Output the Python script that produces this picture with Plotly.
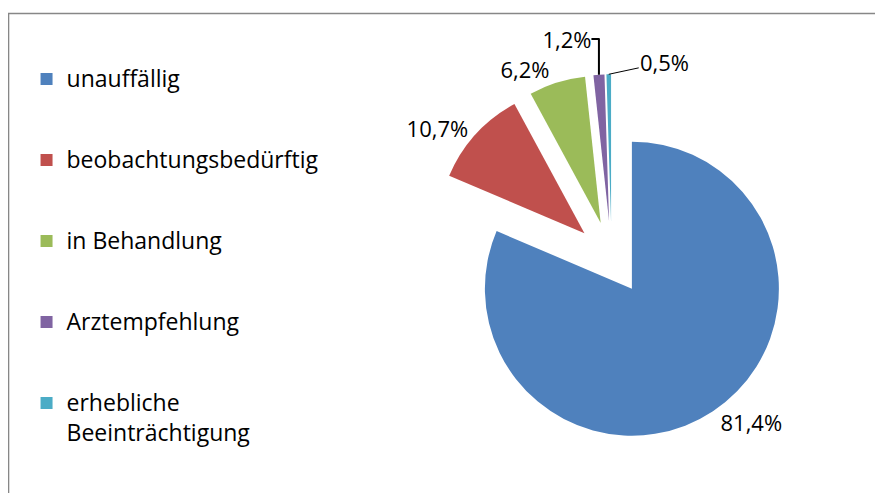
import math
import plotly.graph_objects as go

categories = ["unauffällig", "beobachtungsbedürftig", "in Behandlung", "Arztempfehlung", "erhebliche<br>Beeinträchtigung"]
shares = [81.4, 10.7, 6.2, 1.2, 0.5]
colors = ["#4F81BD", "#C0504D", "#9BBB59", "#8064A2", "#4BACC6"]
pulls = [0.25, 0.25, 0.25, 0.25, 0.25]

FONT = "Open Sans"
W, H = 883, 493
DOM_X = [0.4755, 0.8917]
DOM_Y = [0.1202, 0.8656]


def big(s):
    return "<span style='font-size:23px'>%s</span>" % s


# legend labels: larger text, padded with blank lines so the legend rows are spread like the original;
# continuation lines are nudged down a little for a looser line spacing
legend_labels = []
for i, c in enumerate(categories):
    lines = c.split("<br>")
    pad = 0 if i == len(categories) - 1 else 3 - len(lines)
    parts = [big(lines[0])] + ["<sub>%s</sub>" % big(p) for p in lines[1:]]
    legend_labels.append("<br>".join(parts) + "<br> " * pad)

# the smallest slice gets its label through an annotation (to the right, as in the original)
positions = ["outside"] * (len(shares) - 1) + ["none"]

fig = go.Figure(go.Pie(
    labels=legend_labels,
    values=shares,
    sort=False,
    direction="clockwise",
    rotation=0,
    pull=pulls,
    marker=dict(colors=colors, line=dict(width=0)),
    textposition=positions,
    texttemplate="%{percent:.1%}",
    textfont=dict(family=FONT, size=22, color="#000000"),
    hoverinfo="percent",
    domain=dict(x=DOM_X, y=DOM_Y),
))

# outer tip of the last slice, derived from the shares and the pie's domain
total = sum(shares)
mid_frac = (total - shares[-1] / 2) / total
ang = 2 * math.pi * mid_frac
box = min(W * (DOM_X[1] - DOM_X[0]), H * (DOM_Y[1] - DOM_Y[0]))
r = box / (2 + 2 * max(pulls))
cx = W * (DOM_X[0] + DOM_X[1]) / 2
cy = H * (1 - (DOM_Y[0] + DOM_Y[1]) / 2)
dist = r * (1 + pulls[-1])
tip_x = cx + dist * math.sin(ang)
tip_y = cy - dist * math.cos(ang)
pct_last = shares[-1] / total * 100

fig.update_layout(
    width=W, height=H,
    margin=dict(l=0, r=0, t=0, b=0, autoexpand=False),
    paper_bgcolor="white",
    plot_bgcolor="white",
    separators=",.",
    font=dict(family=FONT, color="#000000"),
    legend=dict(
        x=0.021, xanchor="left",
        y=0.8957, yanchor="top",
        valign="top",
        font=dict(family=FONT, size=20, color="#000000"),
        bgcolor="rgba(0,0,0,0)",
    ),
    annotations=[dict(
        x=tip_x / W, y=1 - tip_y / H, xref="paper", yref="paper",
        text=("%.1f%%" % pct_last).replace(".", ","),
        font=dict(family=FONT, size=22, color="#000000"),
        showarrow=True, arrowhead=0, arrowwidth=1, arrowcolor="#000000",
        ax=56, ay=-12, xanchor="center", yanchor="middle",
    )],
    shapes=[dict(
        type="rect", xref="paper", yref="paper",
        x0=0.5 / W, x1=1.2, y0=-0.2, y1=1 - 5.5 / H,
        line=dict(color="#878787", width=1.6),
        fillcolor="rgba(0,0,0,0)", layer="below",
    )],
)

fig.write_html("out.html")
